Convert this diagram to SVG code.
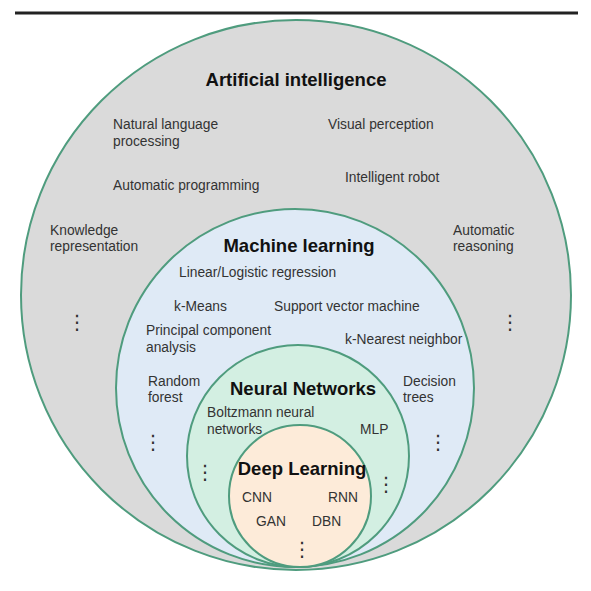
<svg xmlns="http://www.w3.org/2000/svg" width="591" height="591" viewBox="0 0 591 591">
<style>
.c{stroke:#4f9c7e;stroke-width:2}
.t{font-family:"Liberation Sans",Arial,sans-serif;font-size:13.8px;fill:#333}
.h{font-family:"Liberation Sans",Arial,sans-serif;font-size:18.5px;font-weight:bold;fill:#111;text-anchor:middle}
.d{font-family:"DejaVu Sans",sans-serif;font-size:20px;fill:#333;text-anchor:middle}
</style>
<rect width="591" height="591" fill="#ffffff"/>
<line x1="15" y1="13" x2="578" y2="13" stroke="#222" stroke-width="3"/>
<g id="ai">
<circle class="c" cx="296" cy="295" r="275" fill="#dadada"/>
<text class="h" x="296" y="86">Artificial intelligence</text>
<text class="t" x="113" y="129">Natural language</text>
<text class="t" x="113" y="146">processing</text>
<text class="t" x="328" y="129">Visual perception</text>
<text class="t" x="113" y="190">Automatic programming</text>
<text class="t" x="345" y="182">Intelligent robot</text>
<text class="t" x="50" y="235">Knowledge</text>
<text class="t" x="50" y="251">representation</text>
<text class="t" x="453" y="235">Automatic</text>
<text class="t" x="453" y="251">reasoning</text>
<text class="d" x="77" y="329">⋮</text>
<text class="d" x="510" y="329">⋮</text>
</g>
<g id="ml">
<circle class="c" cx="295" cy="388" r="179" fill="#dfeaf6"/>
<text class="h" x="299" y="252">Machine learning</text>
<text class="t" x="179" y="277">Linear/Logistic regression</text>
<text class="t" x="174" y="311">k-Means</text>
<text class="t" x="274" y="311">Support vector machine</text>
<text class="t" x="146" y="335">Principal component</text>
<text class="t" x="146" y="352">analysis</text>
<text class="t" x="345" y="344">k-Nearest neighbor</text>
<text class="t" x="148" y="386">Random</text>
<text class="t" x="148" y="402">forest</text>
<text class="t" x="403" y="386">Decision</text>
<text class="t" x="403" y="402">trees</text>
<text class="d" x="153" y="449">⋮</text>
<text class="d" x="438" y="449">⋮</text>
</g>
<g id="nn">
<circle class="c" cx="298" cy="456" r="111" fill="#d3efe2"/>
<text class="h" x="303" y="395">Neural Networks</text>
<text class="t" x="207" y="417">Boltzmann neural</text>
<text class="t" x="207" y="434">networks</text>
<text class="t" x="360" y="434">MLP</text>
<text class="d" x="205" y="479">⋮</text>
<text class="d" x="386" y="491">⋮</text>
</g>
<g id="dl">
<circle class="c" cx="300" cy="496" r="71" fill="#fdebd9"/>
<text class="h" x="302" y="475">Deep Learning</text>
<text class="t" x="242" y="502">CNN</text>
<text class="t" x="328" y="502">RNN</text>
<text class="t" x="256" y="526">GAN</text>
<text class="t" x="312" y="526">DBN</text>
<text class="d" x="302" y="556">⋮</text>
</g>
<g id="connectors"></g>
</svg>
